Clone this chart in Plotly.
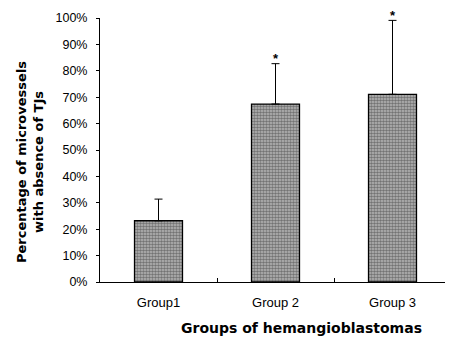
import plotly.graph_objects as go

categories = ["Group1", "Group 2", "Group 3"]
values = [23.2, 67.4, 71.1]
errors_up = [8.2, 15.3, 28.0]
significant = [False, True, True]
y_ticks = [0, 10, 20, 30, 40, 50, 60, 70, 80, 90, 100]
y_tick_labels = [f"{v}%" for v in y_ticks]

FONT = "Liberation Sans, Arial, sans-serif"
TITLE_FONT = "DejaVu Sans, Verdana, sans-serif"

fig = go.Figure()
fig.add_trace(go.Bar(
    x=categories,
    y=values,
    width=0.41,
    marker=dict(
        color="#8c8c8c",
        line=dict(color="black", width=1.3),
        pattern=dict(shape=".", fgcolor="#2e2e2e", bgcolor="#b8b8b8", size=3, solidity=0.55),
    ),
    error_y=dict(type="data", symmetric=False, array=errors_up,
                 arrayminus=[0] * len(values), color="black", thickness=1, width=4),
    showlegend=False,
))

for cat, v, e, sig in zip(categories, values, errors_up, significant):
    if sig:
        fig.add_annotation(x=cat, y=v + e, text="<b>*</b>", showarrow=False,
                           yanchor="middle", yshift=5, borderpad=0,
                           font=dict(family=FONT, size=13, color="black"))

# axis titles as annotations for exact placement
fig.add_annotation(xref="paper", yref="paper", x=-0.199, y=0.455,
                   text="<b>Percentage of microvessels<br>with absence of TJs</b>",
                   textangle=-90, showarrow=False, xanchor="center", yanchor="middle",
                   font=dict(family=TITLE_FONT, size=13, color="black"))
fig.add_annotation(xref="paper", yref="paper", x=0.573, y=-0.174,
                   text="<b>Groups of hemangioblastomas</b>",
                   showarrow=False, xanchor="center", yanchor="middle",
                   font=dict(family=TITLE_FONT, size=14, color="black"))

fig.update_layout(
    width=453, height=338,
    margin=dict(l=92, r=10, t=10, b=64),
    paper_bgcolor="white", plot_bgcolor="white",
    font=dict(family=FONT, color="black", size=12),
)
fig.update_xaxes(
    range=[-0.5, 2.5], showline=True, linecolor="black", linewidth=1,
    ticks="inside", tickson="boundaries", ticklen=4, tickcolor="black",
    showgrid=False, tickfont=dict(size=13), automargin=False, ticklabelstandoff=8,
)
fig.update_yaxes(
    range=[0, 100], tickvals=y_ticks, ticktext=y_tick_labels,
    showline=True, linecolor="black", linewidth=1,
    ticks="outside", ticklen=3, tickcolor="black", showgrid=False, zeroline=False,
    tickfont=dict(size=12.5), automargin=False, ticklabelstandoff=6,
)

fig.write_html("out.html")
